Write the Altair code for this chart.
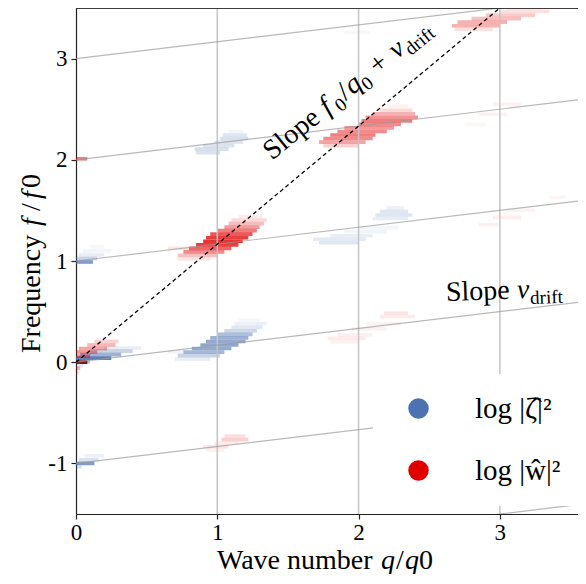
import altair as alt
import pandas as pd

# ---------------- data ----------------
# spectrum cells of log|zeta|^2 : row centre y, x start, x end, opacity
ZETA_Y = [0.04, 0.075, 0.11, 0.14, 0.005, -0.035,
          0.03, 0.065, 0.10, 0.135, 0.17, 0.205, 0.24, 0.275, 0.31, 0.345, 0.38, 0.415, 0.10,
          2.07, 2.105, 2.14, 2.175, 2.21, 2.245, 2.28,
          1.18, 1.215, 1.25, 1.29, 1.33, 1.42, 1.455, 1.49, 1.525,
          0.99, 1.025, 1.06, 1.10, 1.14,
          -1.00, -0.965, -0.925, -1.035,
          3.26]
ZETA_X0 = [0.00, 0.03, 0.10, 0.20, 0.00, 0.00,
           0.70, 0.72, 0.76, 0.82, 0.88, 0.92, 0.95, 1.00, 1.05, 1.10, 1.12, 1.15, 0.65,
           0.85, 0.84, 0.90, 0.98, 1.02, 1.04, 1.08,
           1.72, 1.68, 1.80, 1.90, 2.00, 2.10, 2.12, 2.15, 2.20,
           0.00, 0.00, 0.02, 0.05, 0.10,
           0.00, 0.02, 0.06, 0.00,
           1.90]
ZETA_X1 = [0.25, 0.32, 0.40, 0.46, 0.10, 0.05,
           0.95, 1.02, 1.05, 1.10, 1.15, 1.20, 1.22, 1.25, 1.28, 1.32, 1.35, 1.30, 0.76,
           1.02, 1.08, 1.12, 1.18, 1.22, 1.21, 1.18,
           2.00, 2.05, 2.10, 2.20, 2.28, 2.35, 2.38, 2.35, 2.32,
           0.12, 0.15, 0.20, 0.25, 0.20,
           0.13, 0.16, 0.20, 0.04,
           2.08]
ZETA_A = [0.90, 0.55, 0.30, 0.12, 0.45, 0.15,
          0.12, 0.30, 0.50, 0.60, 0.62, 0.60, 0.55, 0.45, 0.28, 0.16, 0.10, 0.06, 0.08,
          0.20, 0.22, 0.20, 0.18, 0.22, 0.18, 0.08,
          0.18, 0.15, 0.12, 0.08, 0.06, 0.12, 0.18, 0.18, 0.10,
          0.70, 0.30, 0.12, 0.08, 0.05,
          0.70, 0.20, 0.10, 0.20,
          0.05]

# spectrum cells of log|w|^2 : row centre y, x start, x end, opacity
W_Y = [0.06, 0.10, 0.135, 0.17, 0.205, -0.06, -0.10,
       1.02, 1.055, 1.09, 1.125, 1.16, 1.195, 1.23, 1.265, 1.30, 1.335, 1.37, 1.405, 1.44, 1.125,
       2.14, 2.175, 2.21, 2.245, 2.28, 2.315, 2.35, 2.385, 2.42, 2.455, 2.49, 2.53,
       3.29, 3.325, 3.36, 3.395, 3.43, 3.465, 3.50,
       0.20, 0.235, 0.27, 0.33, 0.38, 0.45, 0.485,
       -0.73, -0.765, -0.80, -0.835, -0.87,
       2.55, 2.45, 2.35,
       1.36, 1.43, 1.50, 1.63,
       2.01]
W_X0 = [0.00, 0.00, 0.02, 0.08, 0.13, 0.00, 0.00,
        0.72, 0.72, 0.76, 0.80, 0.85, 0.90, 0.92, 0.95, 1.00, 1.05, 1.08, 1.10, 1.15, 0.65,
        1.75, 1.72, 1.75, 1.80, 1.85, 1.90, 2.00, 2.02, 2.05, 2.10, 2.15, 2.20,
        2.68, 2.66, 2.70, 2.80, 2.90, 3.00, 3.05,
        1.80, 1.78, 1.85, 1.95, 2.05, 2.15, 2.18,
        1.05, 1.03, 0.98, 0.90, 0.92,
        2.95, 2.85, 2.75,
        2.85, 2.95, 3.05, 3.35,
        0.00]
W_X1 = [0.10, 0.15, 0.22, 0.28, 0.30, 0.03, 0.02,
        0.95, 1.00, 1.05, 1.10, 1.15, 1.18, 1.22, 1.25, 1.28, 1.30, 1.33, 1.35, 1.32, 0.80,
        2.00, 2.05, 2.10, 2.12, 2.20, 2.25, 2.30, 2.38, 2.42, 2.40, 2.38, 2.35,
        2.95, 3.00, 3.05, 3.15, 3.25, 3.35, 3.30,
        2.00, 2.05, 2.10, 2.20, 2.30, 2.40, 2.35,
        1.20, 1.22, 1.15, 1.08, 1.05,
        3.15, 3.05, 2.90,
        3.00, 3.15, 3.25, 3.47,
        0.08]
W_A = [0.45, 0.40, 0.35, 0.28, 0.18, 0.30, 0.15,
       0.10, 0.25, 0.45, 0.60, 0.75, 0.80, 0.75, 0.65, 0.50, 0.38, 0.26, 0.15, 0.08, 0.10,
       0.18, 0.35, 0.45, 0.50, 0.45, 0.40, 0.45, 0.50, 0.42, 0.30, 0.15, 0.06,
       0.12, 0.30, 0.30, 0.25, 0.20, 0.12, 0.08,
       0.06, 0.08, 0.06, 0.05, 0.05, 0.08, 0.10,
       0.12, 0.18, 0.08, 0.10, 0.06,
       0.05, 0.05, 0.04,
       0.05, 0.07, 0.05, 0.04,
       0.50]

# strongest cell at the origin
PEAK_Y = [0.0]
PEAK_X0 = [0.0]
PEAK_X1 = [0.08]
PEAK_A = [0.95]

ZETA_NAME = "log |ζ̂|²"
W_NAME = "log |ŵ|²"
PEAK_NAME = "peak"

V_DRIFT = 1.0 / 6.0          # slope of the grey drift lines
SLOPE_MAIN = 1.0 + V_DRIFT   # slope f0/q0 + v_drift
DRIFT_N = [-2, -1, 0, 1, 2, 3]
V_LINES = [1, 2, 3]
X_TICKS = [0, 1, 2, 3]
Y_TICKS = [-1, 0, 1, 2, 3]
X_MAX = 3.553
Y_MIN, Y_MAX = -1.5, 3.5

BLUE = "#4C72B0"
RED = "#E00000"
FONT = "Liberation Serif"
W_PLOT, H_PLOT = 502, 506

# ---------------- tables ----------------
cells = pd.concat([
    pd.DataFrame({"y": ZETA_Y, "x0": ZETA_X0, "x1": ZETA_X1, "a": ZETA_A, "s": ZETA_NAME}),
    pd.DataFrame({"y": W_Y, "x0": W_X0, "x1": W_X1, "a": W_A, "s": W_NAME}),
    pd.DataFrame({"y": PEAK_Y, "x0": PEAK_X0, "x1": PEAK_X1, "a": PEAK_A, "s": PEAK_NAME}),
], ignore_index=True)

drift = pd.DataFrame({"n": DRIFT_N})
drift["xa"] = 0.0
drift["xb"] = 3.6
drift["ya"] = drift["n"]
drift["yb"] = drift["n"] + V_DRIFT * 3.6

main_line = pd.DataFrame({"xa": [0.0], "ya": [0.0], "xb": [3.2], "yb": [3.2 * SLOPE_MAIN]})
vlines = pd.DataFrame({"x": V_LINES})

xs = alt.Scale(domain=[0, X_MAX], nice=False, zero=False)
ys = alt.Scale(domain=[Y_MIN, Y_MAX], nice=False, zero=False)

x_axis = alt.Axis(values=X_TICKS, title=None, labelExpr="'' + datum.value",
                  labelOverlap=False, labelFlush=False, labelBound=False, labelPadding=2)
y_axis = alt.Axis(values=Y_TICKS, title=None, labelExpr="'' + datum.value",
                  labelOverlap=False, labelFlush=False, labelBound=False, labelPadding=4)

heat = alt.Chart(cells).mark_rect(clip=True).transform_calculate(
    ylo="datum.y - 0.018", yhi="datum.y + 0.018"
).encode(
    x=alt.X("x0:Q", scale=xs, axis=x_axis),
    x2="x1:Q",
    y=alt.Y("ylo:Q", scale=ys, axis=y_axis),
    y2="yhi:Q",
    color=alt.Color("s:N",
                    scale=alt.Scale(domain=[ZETA_NAME, W_NAME, PEAK_NAME], range=[BLUE, RED, "#7a0a0a"]),
                    legend=alt.Legend(title=None, values=[ZETA_NAME, W_NAME], orient="none",
                                      legendX=297, legendY=366, symbolType="circle",
                                      symbolSize=420, symbolOpacity=1, symbolStrokeWidth=0,
                                      labelFont=FONT, labelFontSize=29, labelColor="black",
                                      fillColor="white", padding=20, symbolOffset=11,
                                      labelOffset=42, rowPadding=32, zindex=1)),
    opacity=alt.Opacity("a:Q", scale=None),
)

vl = alt.Chart(vlines).mark_rule(color="#c4c4c4", strokeWidth=1.5, clip=True).encode(
    x=alt.X("x:Q", scale=xs)
)

dl = alt.Chart(drift).mark_rule(color="#9a9a9a", strokeWidth=1.2, opacity=0.7, clip=True).encode(
    x=alt.X("xa:Q", scale=xs), y=alt.Y("ya:Q", scale=ys), x2="xb:Q", y2="yb:Q"
)

ml = alt.Chart(main_line).mark_rule(color="black", strokeWidth=1.3, strokeDash=[4, 3], clip=True).encode(
    x=alt.X("xa:Q", scale=xs), y=alt.Y("ya:Q", scale=ys), x2="xb:Q", y2="yb:Q"
)

top = alt.Chart(vlines).mark_rule(color="#222222", strokeWidth=1.2).encode(
    x=alt.value(0), x2=alt.value(W_PLOT), y=alt.value(0)
)


# ---------------- rich texts (roman / italic / subscript pieces) ----------------
def rich(parts, ax, ay, angle, in_data):
    """parts: (text, size, italic, dx, dy) all sharing one anchor."""
    layers = []
    for text, size, italic, dx, dy in parts:
        df = pd.DataFrame({"ax": [ax], "ay": [ay], "t": [text]})
        m = alt.Chart(df).mark_text(font=FONT, fontSize=size, angle=angle, align="left",
                                    baseline="alphabetic", dx=dx, dy=dy, color="black",
                                    fontStyle="italic" if italic else "normal")
        if in_data:
            enc = m.encode(x=alt.X("ax:Q", scale=xs), y=alt.Y("ay:Q", scale=ys), text="t:N")
        else:
            enc = m.encode(x=alt.value(ax), y=alt.value(ay), text="t:N")
        layers.append(enc)
    return layers


S, SS = 28, 19  # annotation size and its subscript size
ann1 = rich([
    ("Slope", S, False, 0, 0),
    ("f", S, True, 72, 0),
    ("0", SS, False, 84, 6),
    ("/", S, False, 95, 0),
    ("q", S, True, 104, 0),
    ("0", SS, False, 118, 6),
    ("+", S, False, 136, 0),
    ("v", S, True, 161, 0),
    ("drift", SS, False, 174, 6),
], 1.387, 1.99, 321, True)

ann2 = rich([
    ("Slope", S, False, 0, 0),
    ("v", S, True, 71, 0),
    ("drift", SS, False, 84, 6),
], 2.62, 0.605, 358, True)

T = 28  # axis title size
xtitle = rich([
    ("Wave number", T, False, 0, 0),
    ("q", T, True, 164, 0),
    ("/", T, False, 179, 0),
    ("q", T, True, 188, 0),
    ("0", T, False, 202, 0),
], 141, 561, 0, False)

ytitle = rich([
    ("Frequency", T, False, 0, 0),
    ("f", T, True, 127, 0),
    ("/", T, False, 142, 0),
    ("f", T, True, 154, 0),
    ("0", T, False, 165, 0),
], -36, 345, 270, False)

chart = alt.layer(heat, vl, dl, ml, top, *ann1, *ann2, *xtitle, *ytitle).properties(
    width=W_PLOT, height=H_PLOT,
    padding={"left": 68, "top": 0, "right": 0, "bottom": 60},
    autosize=alt.AutoSizeParams(type="none"),
).configure_view(stroke=None).configure_axis(
    grid=False, labelFont=FONT, labelFontSize=23, title=None,
    labelColor="black", domainColor="#222222", domainWidth=1.2,
    tickColor="#222222", tickSize=5, tickWidth=1.2,
    labelOverlap=False, labelFlush=False, labelBound=False,
)

chart.save("out.html", embed_options={"renderer": "svg", "actions": False})
